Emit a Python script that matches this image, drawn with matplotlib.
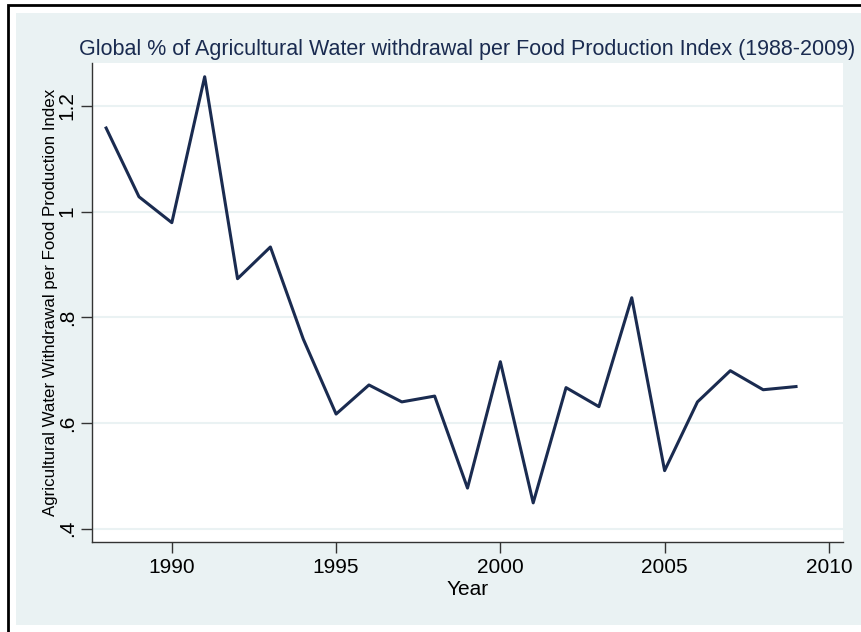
import numpy as np
import matplotlib.pyplot as plt
from matplotlib.patches import Rectangle

plt.rcParams['font.family'] = ['Liberation Sans', 'DejaVu Sans']

# data
years = [1988, 1989, 1990, 1991, 1992, 1993, 1994, 1995, 1996, 1997, 1998,
         1999, 2000, 2001, 2002, 2003, 2004, 2005, 2006, 2007, 2008, 2009]
ratio = [1.158, 1.028, 0.979, 1.255, 0.873, 0.933, 0.759, 0.617, 0.672, 0.640, 0.651,
         0.477, 0.716, 0.449, 0.667, 0.631, 0.837, 0.510, 0.640, 0.699, 0.663, 0.669]
xticks = [1990, 1995, 2000, 2005, 2010]
yticks = [0.4, 0.6, 0.8, 1.0, 1.2]
ylabels = ['.4', '.6', '.8', '1', '1.2']

W, H = 861, 632
fig = plt.figure(figsize=(W / 100, H / 100), dpi=100)
fig.patch.set_facecolor('white')

# outer frame and light blue background (pixel coords -> figure fraction)
def fx(px): return px / W
def fy(py): return 1 - py / H

fig.patches.append(Rectangle((fx(8), fy(645)), fx(870) - fx(8), fy(5) - fy(645),
                             transform=fig.transFigure, facecolor='none',
                             edgecolor='black', lw=2, zorder=-2))
fig.patches.append(Rectangle((fx(16), fy(625)), fx(861) - fx(16), fy(13) - fy(625),
                             transform=fig.transFigure, facecolor='#eaf2f3',
                             edgecolor='none', zorder=-2))

ax = fig.add_axes([fx(92), fy(542), fx(843) - fx(92), fy(63) - fy(542)])
ax.set_facecolor('white')
ax.plot(years, ratio, color='#1a2b50', lw=2.2, zorder=3)

ax.set_xlim(1987.57, 2010.43)
ax.set_ylim(0.375, 1.281)
ax.set_xticks(xticks)
ax.set_yticks(yticks)
ax.set_yticklabels(ylabels, rotation=90, va='center')
ax.tick_params(axis='both', labelsize=15, length=8, color='#333333', width=1)
ax.tick_params(axis='y', pad=3)
ax.grid(axis='y', color='#eaf2f3', lw=1.5, zorder=1)
for s in ['top', 'right']:
    ax.spines[s].set_visible(False)
for s in ['left', 'bottom']:
    ax.spines[s].set_color('#333333')
    ax.spines[s].set_linewidth(1)

ax.set_xlabel('Year', fontsize=15, labelpad=2)
ax.set_ylabel('Agricultural Water Withdrawal per Food Production Index', fontsize=12.2, labelpad=0)
ax.set_title('Global % of Agricultural Water withdrawal per Food Production Index (1988-2009)',
             fontsize=15.5, color='#1a2b50', pad=6)

plt.savefig('out.png', dpi=100)
